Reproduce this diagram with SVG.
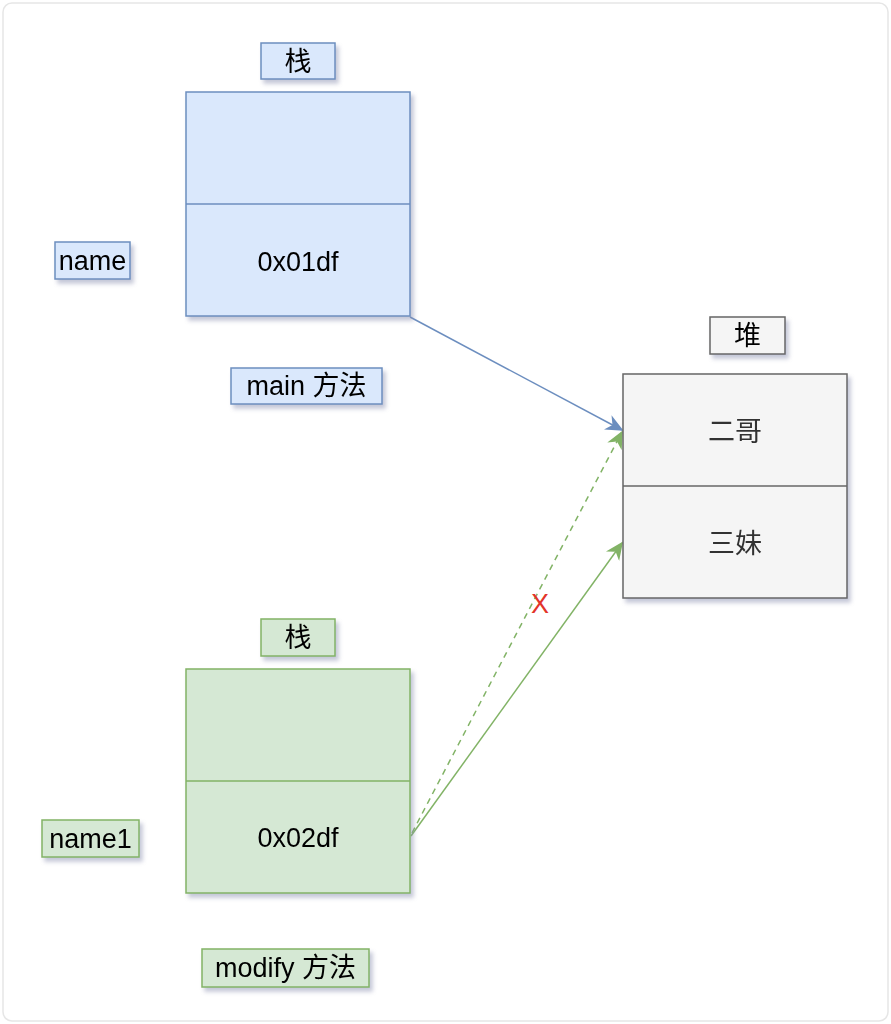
<svg xmlns="http://www.w3.org/2000/svg" width="891" height="1024" viewBox="0 0 891 1024">
<defs>
<filter id="sh" x="-20%" y="-20%" width="150%" height="150%">
<feGaussianBlur in="SourceAlpha" stdDeviation="2"/>
<feOffset dx="3" dy="4" result="b"/>
<feFlood flood-color="#8a8fb0" flood-opacity="0.5"/>
<feComposite in2="b" operator="in" result="s"/>
<feMerge><feMergeNode in="s"/><feMergeNode in="SourceGraphic"/></feMerge>
</filter>
<marker id="aBlue" viewBox="0 0 10 10" refX="9" refY="5" markerWidth="18" markerHeight="18" markerUnits="userSpaceOnUse" orient="auto">
<path d="M0,0.5 L10,5 L0,9.5 L3,5 Z" fill="#6c8ebf"/>
</marker>
<marker id="aGreen" viewBox="0 0 10 10" refX="9" refY="5" markerWidth="18" markerHeight="18" markerUnits="userSpaceOnUse" orient="auto">
<path d="M0,0.5 L10,5 L0,9.5 L3,5 Z" fill="#82b366"/>
</marker>
<style>
text{font-family:"Liberation Sans","Noto Sans CJK SC",sans-serif;font-size:27px;fill:#000;text-anchor:middle;dominant-baseline:central}
.blue{fill:#dae8fc;stroke:#6c8ebf;stroke-width:1.5}
.green{fill:#d5e8d4;stroke:#82b366;stroke-width:1.5}
.gray{fill:#f5f5f5;stroke:#666666;stroke-width:1.5}
.bl{stroke:#6c8ebf;stroke-width:1.5}
.gl{stroke:#82b366;stroke-width:1.5}
.grl{stroke:#666666;stroke-width:1.5}
.dim{fill:#333}
</style>
</defs>
<rect x="0" y="0" width="891" height="1024" fill="#ffffff"/>
<rect x="3" y="3" width="885" height="1018" rx="9" fill="#ffffff" stroke="#e6e6e6" stroke-width="1.5"/>

<g id="connectors" fill="none">
<line x1="410" y1="317" x2="622" y2="430" stroke="#6c8ebf" stroke-width="1.5" marker-end="url(#aBlue)"/>
<line x1="412" y1="833" x2="622" y2="432" stroke="#82b366" stroke-width="1.5" stroke-dasharray="6,5" marker-end="url(#aGreen)"/>
<line x1="411" y1="836" x2="622" y2="543" stroke="#82b366" stroke-width="1.5" marker-end="url(#aGreen)"/>
<text x="540" y="604" style="fill:#e3342a;font-size:27px">X</text>
</g>

<g id="stack-main-label" filter="url(#sh)">
<rect class="blue" x="261" y="43" width="74" height="36"/>
<text x="298" y="62">栈</text>
</g>
<g id="stack-main" filter="url(#sh)">
<rect class="blue" x="186" y="92" width="224" height="224"/>
<line class="bl" x1="186" y1="204" x2="410" y2="204"/>
<text x="298" y="262">0x01df</text>
</g>
<g id="name" filter="url(#sh)">
<rect class="blue" x="55" y="242" width="75" height="37"/>
<text x="92.5" y="261">name</text>
</g>
<g id="main-method" filter="url(#sh)">
<rect class="blue" x="231" y="368" width="151" height="36"/>
<text x="306.5" y="386">main 方法</text>
</g>

<g id="heap-label" filter="url(#sh)">
<rect class="gray" x="710" y="317" width="75" height="37"/>
<text x="747.5" y="336">堆</text>
</g>
<g id="heap" filter="url(#sh)">
<rect class="gray" x="623" y="374" width="224" height="224"/>
<line class="grl" x1="623" y1="486" x2="847" y2="486"/>
<text class="dim" x="735" y="432">二哥</text>
<text class="dim" x="735" y="544">三妹</text>
</g>

<g id="stack-modify-label" filter="url(#sh)">
<rect class="green" x="261" y="619" width="74" height="37"/>
<text x="298" y="638">栈</text>
</g>
<g id="stack-modify" filter="url(#sh)">
<rect class="green" x="186" y="669" width="224" height="224"/>
<line class="gl" x1="186" y1="781" x2="410" y2="781"/>
<text x="298" y="838">0x02df</text>
</g>
<g id="name1" filter="url(#sh)">
<rect class="green" x="42" y="820" width="97" height="37"/>
<text x="90.5" y="839">name1</text>
</g>
<g id="modify-method" filter="url(#sh)">
<rect class="green" x="202" y="949" width="167" height="38"/>
<text x="285.5" y="968">modify 方法</text>
</g>
</svg>
